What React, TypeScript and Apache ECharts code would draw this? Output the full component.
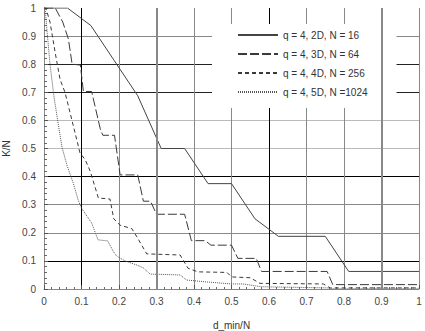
import React, { useEffect, useRef } from "react";
import * as echarts from "echarts";

const seriesNames = [
  "q = 4, 2D, N = 16",
  "q = 4, 3D, N = 64",
  "q = 4, 4D, N = 256",
  "q = 4, 5D, N =1024",
];

const n16X = [0, 0.0625, 0.125, 0.1875, 0.25, 0.3125, 0.375, 0.4375, 0.5, 0.5625, 0.625, 0.75, 0.8125, 1];
const n16Y = [1, 1, 0.9375, 0.8125, 0.6875, 0.5, 0.5, 0.375, 0.375, 0.25, 0.1875, 0.1875, 0.0625, 0.0625];

const n64X = [0, 0.03, 0.05, 0.065, 0.075, 0.097, 0.105, 0.127, 0.15, 0.157, 0.188, 0.203, 0.25, 0.265, 0.284, 0.3, 0.375, 0.393, 0.43, 0.445, 0.5, 0.517, 0.566, 0.58, 0.755, 0.77, 1];
const n64Y = [1, 1, 0.95, 0.89, 0.8, 0.797, 0.703, 0.703, 0.57, 0.547, 0.547, 0.406, 0.406, 0.3125, 0.3125, 0.266, 0.266, 0.172, 0.172, 0.156, 0.156, 0.109, 0.109, 0.0625, 0.0625, 0.0156, 0.0156];

const n256X = [0, 0.005, 0.016, 0.03, 0.043, 0.056, 0.083, 0.096, 0.11, 0.123, 0.145, 0.176, 0.186, 0.203, 0.234, 0.248, 0.274, 0.363, 0.384, 0.41, 0.488, 0.5, 0.55, 0.576, 0.745, 0.763, 1];
const n256Y = [1, 1, 0.95, 0.84, 0.745, 0.7, 0.555, 0.484, 0.46, 0.42, 0.324, 0.32, 0.25, 0.227, 0.215, 0.185, 0.125, 0.121, 0.074, 0.061, 0.059, 0.043, 0.04, 0.02, 0.018, 0.004, 0.004];

const n1024X = [0, 0.003, 0.008, 0.016, 0.026, 0.037, 0.048, 0.061, 0.078, 0.091, 0.1, 0.127, 0.144, 0.17, 0.185, 0.194, 0.216, 0.248, 0.265, 0.283, 0.363, 0.38, 0.434, 0.5, 0.53, 0.58, 0.755, 0.77, 1];
const n1024Y = [1, 1, 0.92, 0.8, 0.69, 0.595, 0.505, 0.441, 0.377, 0.317, 0.288, 0.235, 0.175, 0.171, 0.133, 0.117, 0.1, 0.085, 0.075, 0.053, 0.05, 0.032, 0.025, 0.018, 0.018, 0.008, 0.004, 0.001, 0.001];

const thickXLines = [0.3, 0.9];

const xGridColors = ["#888", "#000", "#888", "#8a8a8a", "#888", "#888", "#000", "#888", "#888", "#8a8a8a", "#888"];
const yGridColors = ["#888", "#000", "#888", "#888", "#000", "#bbb", "#bbb", "#222", "#222", "#888", "#888"];

const zip = (xs: number[], ys: number[]) => xs.map((x, i) => [x, ys[i]]);

export default function App() {
  const ref = useRef<HTMLDivElement>(null);
  useEffect(() => {
    if (!ref.current) return;
    const chart = echarts.init(ref.current, undefined, { renderer: "svg" });
    const font = "Liberation Sans";
    const lineDefs = [
      { x: n16X, y: n16Y, type: "solid" as any, color: "#444" },
      { x: n64X, y: n64Y, type: [9, 3], color: "#3a3a3a" },
      { x: n256X, y: n256Y, type: [4, 3], color: "#3a3a3a" },
      { x: n1024X, y: n1024Y, type: [1, 1], color: "#555" },
    ];
    chart.setOption({
      animation: false,
      backgroundColor: "#fff",
      textStyle: { fontFamily: font },
      grid: { left: 44, right: 6, top: 8, bottom: 42, outerBoundsMode: "none", containLabel: false },
      legend: {
        left: 212,
        top: 24,
        orient: "vertical",
        backgroundColor: "#fff",
        padding: [6, 29, 11, 25],
        itemWidth: 40,
        itemHeight: 10,
        itemGap: 9,
        itemStyle: { opacity: 0 },
        textStyle: { fontSize: 10, color: "#333", fontFamily: font },
        data: seriesNames,
      },
      xAxis: {
        type: "value",
        min: 0,
        max: 1,
        interval: 0.1,
        name: "d_min/N",
        nameLocation: "middle",
        nameGap: 31,
        nameTextStyle: { fontSize: 10, color: "#333" },
        axisLine: { lineStyle: { color: "#888" } },
        axisTick: { inside: true, length: 4, lineStyle: { color: "#555" } },
        minorTick: { show: true, splitNumber: 5, length: 2, lineStyle: { color: "#666" } },
        axisLabel: {
          fontSize: 10,
          color: "#444",
          margin: 7,
          formatter: (v: number) => String(Math.round(v * 10) / 10),
        },
        splitLine: { show: true, lineStyle: { color: xGridColors, width: 1 } },
      },
      yAxis: {
        type: "value",
        min: 0,
        max: 1,
        interval: 0.1,
        name: "K/N",
        nameLocation: "middle",
        nameGap: 30,
        nameTextStyle: { fontSize: 10, color: "#333" },
        axisLine: { show: true, lineStyle: { color: "#888" } },
        axisTick: { show: true, inside: true, length: 4, lineStyle: { color: "#555" } },
        minorTick: { show: true, splitNumber: 5, length: 3, lineStyle: { color: "#666" } },
        axisLabel: {
          fontSize: 10,
          color: "#444",
          margin: 8,
          formatter: (v: number) => String(Math.round(v * 10) / 10),
        },
        splitLine: { show: true, showMaxLine: false, lineStyle: { color: yGridColors, width: 1 } },
      },
      series: [
        ...lineDefs.map((d, i) => ({
          name: seriesNames[i],
          type: "line",
          data: zip(d.x, d.y),
          symbol: "none",
          lineStyle: { color: d.color, width: 1, type: d.type },
          itemStyle: { color: d.color },
          z: 3,
        })),
        {
          name: "thick",
          type: "line",
          data: [],
          markLine: {
            silent: true,
            symbol: "none",
            label: { show: false },
            lineStyle: { color: "#888", width: 2, type: "solid" },
            data: thickXLines.map((v) => ({ xAxis: v })),
          },
          z: 1,
        },
      ],
    });
    return () => chart.dispose();
  }, []);
  return (
    <div
      ref={ref}
      style={{ position: "fixed", left: 0, top: 0, width: 425, height: 331 }}
    />
  );
}
